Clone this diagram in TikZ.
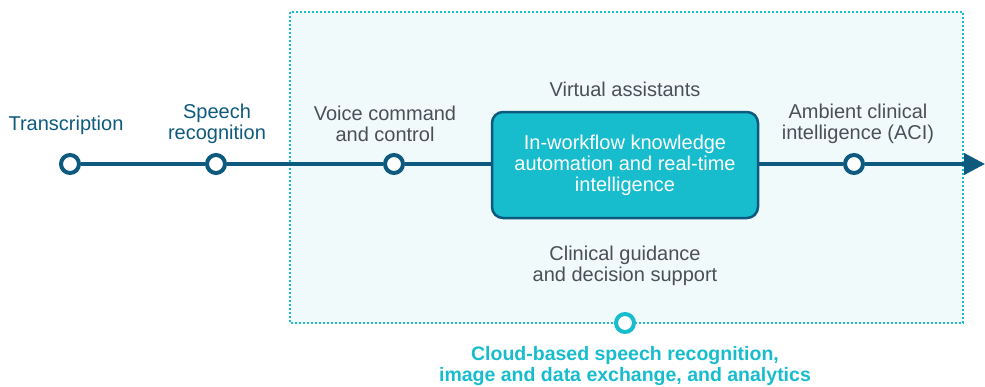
\documentclass[tikz,border=0pt]{standalone}
\usepackage{fontspec}
\setmainfont{Liberation Sans}
\usetikzlibrary{arrows.meta,positioning}
\definecolor{navy}{HTML}{0E5A7E}
\definecolor{aqua}{HTML}{17BCCD}
\definecolor{pale}{HTML}{F1FAFA}
\definecolor{greytext}{HTML}{4A5058}
\begin{document}
\begin{tikzpicture}[x=1pt,y=-1pt,font=\fontsize{20}{21}\selectfont,
  stop/.style={circle,draw=navy,line width=4pt,fill=white,inner sep=0pt,minimum size=18pt},
  lbl/.style={align=center,text=greytext},
  track/.style={navy,line width=4pt}]
\useasboundingbox (0,0) rectangle (985,386);
% cloud area
\draw[aqua,line width=2pt,dash pattern=on 2pt off 2pt,fill=pale] (290,12) rectangle (963,323);
% stops on the line
\node[stop] (tr) at (70,164) {};
\node[stop] (sp) at (216,164) {};
\node[stop] (vc) at (394,164) {};
\node[stop] (aci) at (854,164) {};
\node[draw=navy,line width=2.5pt,fill=aqua,rounded corners=11pt,minimum width=266pt,minimum height=106pt,text=white,align=center] (box) at (625,165)
  {In-workflow knowledge\\automation and real-time\\intelligence};
\coordinate (end) at (985,164);
\draw[track] (tr) -- (sp) -- (vc) -- (vc -| box.west);
\draw[track,-{Triangle[length=21pt,width=21pt]}] (aci -| box.east) -- (aci) -- (end);
% labels
\node[lbl,text=navy] (trl) at (66,125) {Transcription};
\node[lbl,text=navy] (spl) at (217,124) {Speech\\recognition};
\node[lbl] (vcl) at (385,124) {Voice command\\and control};
\node[lbl] (va) at (625,89) {Virtual assistants};
\node[lbl] (acil) at (858,124) {Ambient clinical\\intelligence (ACI)};
\node[lbl] (cg) at (625,266) {Clinical guidance\\and decision support};
% cloud stop
\node[stop,draw=aqua] (cloud) at (625,323) {};
\node[align=center,text=aqua,font=\fontsize{19.5}{21}\selectfont\bfseries] (cloudl) at (625,366)
  {Cloud-based speech recognition,\\image and data exchange, and analytics};
\end{tikzpicture}
\end{document}
